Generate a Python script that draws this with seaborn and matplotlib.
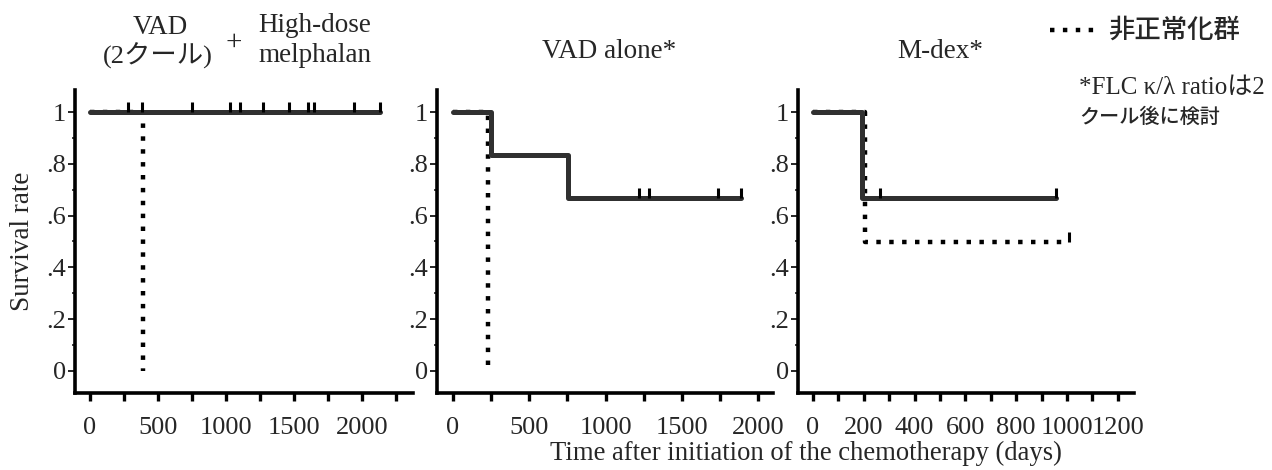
import pandas as pd
import numpy as np
import matplotlib
matplotlib.use("Agg")
import matplotlib.pyplot as plt
from matplotlib.lines import Line2D
from matplotlib.ticker import MultipleLocator, FixedFormatter, FixedLocator
import seaborn as sns

# Kaplan-Meier step data (days, survival rate)
# Panel 1: VAD (2 cycles) + high-dose melphalan
p1_norm_t = [0, 2130]
p1_norm_s = [1.0, 1.0]
p1_norm_cens = [280, 380, 750, 1030, 1100, 1270, 1460, 1600, 1650, 1940, 2130]
p1_abn_t = [0, 390]
p1_abn_s = [1.0, 0.0]
p1_abn_cens = []

# Panel 2: VAD alone
p2_norm_t = [0, 250, 757, 1890]
p2_norm_s = [1.0, 0.833, 0.667, 0.667]
p2_norm_cens = [1217, 1283, 1737, 1890]
p2_abn_t = [0, 230]
p2_abn_s = [1.0, 0.0]
p2_abn_cens = []

# Panel 3: M-dex
p3_norm_t = [0, 193, 957]
p3_norm_s = [1.0, 0.667, 0.667]
p3_norm_cens = [263, 957]
p3_abn_t = [0, 205, 1008]
p3_abn_s = [1.0, 0.5, 0.5]
p3_abn_cens = [1008]

y_ticks = [0, 0.2, 0.4, 0.6, 0.8, 1.0]
y_tick_labels = ["0", ".2", ".4", ".6", ".8", "1"]

GROUP_NORM = "正常化群"
GROUP_ABN = "非正常化群"

SERIF = ["Liberation Serif", "Noto Sans CJK JP"]
CJK = ["Noto Sans CJK JP", "Liberation Serif"]

sns.set_style("ticks")
plt.rcParams["font.family"] = SERIF


def make_frame(norm_t, norm_s, abn_t, abn_s):
    """Build long-form frame for seaborn"""
    df_n = pd.DataFrame({"time": norm_t, "surv": norm_s, "group": GROUP_NORM})
    df_a = pd.DataFrame({"time": abn_t, "surv": abn_s, "group": GROUP_ABN})
    return pd.concat([df_a, df_n], ignore_index=True)


def draw_panel(ax, df, norm_cens, norm_s_at, abn_cens, abn_s_at, xlim, major, minor):
    sns.lineplot(data=df, x="time", y="surv", hue="group", style="group",
                 palette={GROUP_NORM: "#303030", GROUP_ABN: "black"},
                 dashes={GROUP_NORM: "", GROUP_ABN: (1.0, 1.9)},
                 size="group", sizes={GROUP_NORM: 3.6, GROUP_ABN: 3.2},
                 drawstyle="steps-post", estimator=None, sort=False,
                 legend=False, ax=ax)
    if norm_cens:
        ax.plot(norm_cens, [norm_s_at] * len(norm_cens), linestyle="none",
                marker=2, markersize=7, mew=2.2, color="black")
    if abn_cens:
        ax.plot(abn_cens, [abn_s_at] * len(abn_cens), linestyle="none",
                marker=2, markersize=7, mew=2.2, color="black")

    ax.set_xlim(*xlim)
    ax.set_ylim(-0.085, 1.085)
    ax.xaxis.set_major_locator(MultipleLocator(major))
    ax.xaxis.set_minor_locator(MultipleLocator(minor))
    ax.yaxis.set_major_locator(FixedLocator(y_ticks))
    ax.yaxis.set_major_formatter(FixedFormatter(y_tick_labels))
    ax.yaxis.set_minor_locator(MultipleLocator(0.1))

    sns.despine(ax=ax)
    for side in ["left", "bottom"]:
        ax.spines[side].set_linewidth(2.6)
        ax.spines[side].set_color("black")
    ax.tick_params(axis="x", which="both", direction="out", length=6, width=2.4,
                   pad=11, labelsize=19, color="black")
    ax.tick_params(axis="y", which="major", direction="out", length=5, width=1.4,
                   pad=1.5, labelsize=19)
    ax.tick_params(axis="y", which="minor", direction="out", length=2, width=1.2)
    ax.set_xlabel("")
    ax.set_ylabel("")
    ax.set_facecolor("white")


fig = plt.figure(figsize=(12.72, 4.70), dpi=100)
fig.patch.set_facecolor("white")

H = 470.0
W = 1272.0
bottom = 1 - 393 / H
height = (393 - 90) / H
ax1 = fig.add_axes([75 / W, bottom, 338 / W, height])
ax2 = fig.add_axes([437 / W, bottom, 336 / W, height])
ax3 = fig.add_axes([798 / W, bottom, 336 / W, height])

draw_panel(ax1, make_frame(p1_norm_t, p1_norm_s, p1_abn_t, p1_abn_s),
           p1_norm_cens, 1.0, p1_abn_cens, 0.0, (-110, 2375), 500, 250)
draw_panel(ax2, make_frame(p2_norm_t, p2_norm_s, p2_abn_t, p2_abn_s),
           p2_norm_cens, 0.667, p2_abn_cens, 0.0, (-105, 2098), 500, 250)
draw_panel(ax3, make_frame(p3_norm_t, p3_norm_s, p3_abn_t, p3_abn_s),
           p3_norm_cens, 0.667, p3_abn_cens, 0.5, (-59, 1264), 200, 100)

ax1.set_ylabel("Survival rate", fontsize=19.5, labelpad=8)

# panel titles
fig.text(160 / W, 1 - 28 / H, "VAD", ha="center", va="center", fontsize=19.5, family=SERIF)
fig.text(158 / W, 1 - 56 / H, "(2クール)", ha="center", va="center", fontsize=19, family=SERIF)
fig.text(234 / W, 1 - 43 / H, "+", ha="center", va="center", fontsize=21, family=SERIF)
fig.text(315 / W, 1 - 25 / H, "High-dose", ha="center", va="center", fontsize=19.5, family=SERIF)
fig.text(315 / W, 1 - 55 / H, "melphalan", ha="center", va="center", fontsize=19.5, family=SERIF)
fig.text(609 / W, 1 - 52 / H, "VAD alone*", ha="center", va="center", fontsize=19.5, family=SERIF)
fig.text(940 / W, 1 - 52 / H, "M-dex*", ha="center", va="center", fontsize=19.5, family=SERIF)

# legend for the dotted group
fig.add_artist(Line2D([1050 / W, 1100 / W], [1 - 30 / H, 1 - 30 / H],
                      transform=fig.transFigure, color="black", lw=3.2,
                      dashes=(1.0, 1.9)))
fig.text(1108 / W, 1 - 30 / H, GROUP_ABN, ha="left", va="center", fontsize=19,
         family=CJK, fontweight="medium")

# footnote
fig.text(1079 / W, 1 - 88 / H, "*FLC κ/λ ratioは2", ha="left", va="center",
         fontsize=18, family=SERIF)
fig.text(1079 / W, 1 - 117 / H, "クール後に検討", ha="left", va="center",
         fontsize=14.5, family=CJK, fontweight="medium")

fig.text(806 / W, 1 - 453 / H, "Time after initiation of the chemotherapy (days)",
         ha="center", va="center", fontsize=19.2, family=SERIF)

fig.savefig("out.png", dpi=100, facecolor="white")
